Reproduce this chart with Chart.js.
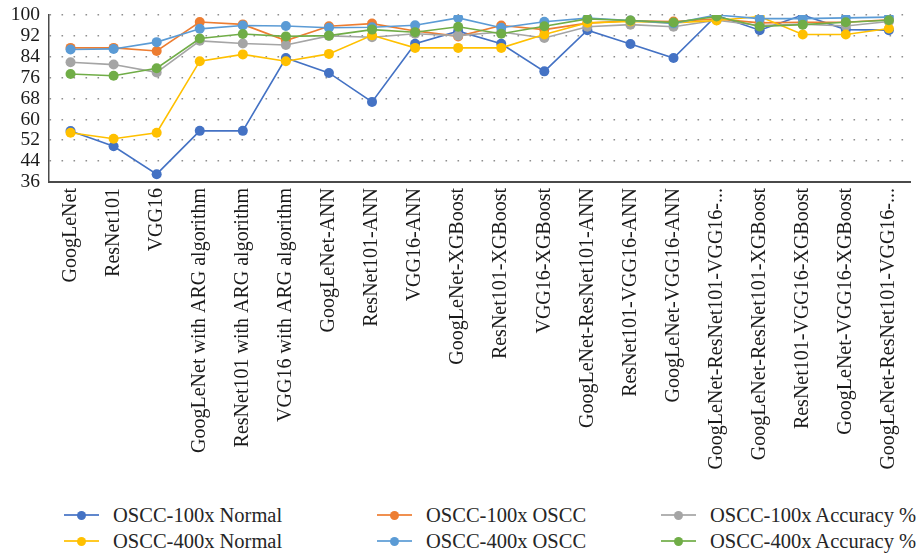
<!DOCTYPE html>
<html>
<head>
<meta charset="utf-8">
<script src="https://cdn.jsdelivr.net/npm/chart.js@4.4.1/dist/chart.umd.min.js"></script>
<style>
  html, body { margin: 0; padding: 0; background: #ffffff; }
  #wrap { position: relative; width: 919px; height: 554px; overflow: hidden; }
  #plot { position: absolute; left: 0; top: 0; width: 919px; height: 490px; }
  #legend { position: absolute; left: 0; top: 500px; width: 919px; height: 54px;
            font-family: "Liberation Serif", "DejaVu Serif", serif; font-size: 20.5px; color: #262626; }
  .item { position: absolute; height: 24px; display: flex; align-items: center; white-space: nowrap; }
  .mark { position: relative; width: 35px; height: 24px; margin-right: 14px; }
  .mark .ln { position: absolute; left: 0; right: 0; top: 11px; height: 2px; }
  .mark .dot { position: absolute; left: 13px; top: 7.5px; width: 9px; height: 9px; border-radius: 50%; }
</style>
</head>
<body>
<div id="wrap">
  <div id="plot"><canvas id="chart"></canvas></div>
  <div id="legend"></div>
</div>
<script>
// Model names along the category axis (long ones are shortened with "...")
const models = [
  "GoogLeNet",
  "ResNet101",
  "VGG16",
  "GoogLeNet with ARG algorithm",
  "ResNet101 with ARG algorithm",
  "VGG16 with ARG algorithm",
  "GoogLeNet-ANN",
  "ResNet101-ANN",
  "VGG16-ANN",
  "GoogLeNet-XGBoost",
  "ResNet101-XGBoost",
  "VGG16-XGBoost",
  "GoogLeNet-ResNet101-ANN",
  "ResNet101-VGG16-ANN",
  "GoogLeNet-VGG16-ANN",
  "GoogLeNet-ResNet101-VGG16-...",
  "GoogLeNet-ResNet101-XGBoost",
  "ResNet101-VGG16-XGBoost",
  "GoogLeNet-VGG16-XGBoost",
  "GoogLeNet-ResNet101-VGG16-..."
];

const seriesNames = [
  "OSCC-100x Normal",
  "OSCC-100x OSCC",
  "OSCC-100x Accuracy %",
  "OSCC-400x Normal",
  "OSCC-400x OSCC",
  "OSCC-400x Accuracy %"
];

// Results per model (%)
const normal100   = [55.5, 49.7, 39.0, 55.6, 55.6, 83.5, 77.8, 66.7, 89.0, 93.8, 89.0, 78.4, 94.2, 88.9, 83.5, 99.8, 94.2, 100.0, 94.4, 94.2];
const oscc100     = [87.4, 87.4, 86.2, 97.3, 96.4, 90.2, 95.7, 96.7, 93.9, 91.8, 96.0, 94.4, 96.9, 97.8, 97.5, 98.5, 97.0, 97.2, 97.2, 98.2];
const accuracy100 = [81.9, 81.0, 78.0, 90.1, 89.1, 88.5, 92.0, 91.5, 92.8, 92.1, 93.5, 91.2, 95.5, 96.3, 95.5, 98.0, 96.0, 96.5, 95.8, 97.5];
const normal400   = [54.9, 52.6, 54.9, 82.3, 84.9, 82.3, 85.1, 92.2, 87.4, 87.4, 87.4, 92.5, 97.0, 97.5, 97.0, 97.9, 99.4, 92.5, 92.5, 94.8];
const oscc400     = [86.8, 87.0, 89.6, 94.7, 96.0, 95.8, 95.1, 95.3, 96.1, 98.9, 95.1, 97.4, 98.8, 97.9, 96.8, 100.0, 98.6, 98.6, 98.9, 99.2];
const accuracy400 = [77.4, 76.7, 79.6, 91.0, 92.7, 91.8, 92.1, 94.4, 93.4, 95.5, 92.8, 95.7, 98.5, 97.9, 97.1, 99.4, 95.6, 96.3, 97.2, 98.0];

// Value axis range
const yMin = 36, yMax = 100, yStep = 8;

const seriesValues = [normal100, oscc100, accuracy100, normal400, oscc400, accuracy400];
const palette = ["#4472C4", "#ED7D31", "#A5A5A5", "#FFC000", "#5B9BD5", "#70AD47"];

const serif = "'Liberation Serif', 'DejaVu Serif', serif";

const datasets = seriesValues.map((vals, i) => ({
  label: seriesNames[i],
  data: vals,
  borderColor: palette[i],
  backgroundColor: palette[i],
  pointBackgroundColor: palette[i],
  pointBorderColor: palette[i],
  pointRadius: 5,
  pointBorderWidth: 0,
  borderWidth: 1.6,
  tension: 0,
  order: seriesValues.length - i   // later series painted on top
}));

new Chart(document.getElementById("chart"), {
  type: "line",
  data: { labels: models, datasets },
  options: {
    responsive: true,
    maintainAspectRatio: false,
    animation: false,
    events: [],
    layout: { padding: { top: 15, right: 0, bottom: 0, left: 0 } },
    plugins: { legend: { display: false }, tooltip: { enabled: false } },
    scales: {
      x: {
        offset: true,
        grid: { display: false, drawTicks: false },
        border: { display: true, color: "#4a4a4a", width: 2 },
        ticks: {
          autoSkip: false,
          maxRotation: 90,
          minRotation: 90,
          padding: 6,
          color: "#1a1a1a",
          font: { family: serif, size: 20 }
        },
        afterFit: (s) => { s.height = 308; }
      },
      y: {
        min: yMin,
        max: yMax,
        ticks: {
          stepSize: yStep,
          autoSkip: false,
          padding: 0,
          color: "#1a1a1a",
          font: { family: serif, size: 19.5 }
        },
        grid: {
          drawTicks: true,
          tickLength: 9,
          tickColor: "rgba(0,0,0,0)",
          color: "#8f8f8f",
          lineWidth: 1.6
        },
        // border.dash styles the grid lines (dotted); the axis line stays solid
        border: { display: true, color: "#4a4a4a", width: 1.5, dash: [1.6, 10.4] },
        afterFit: (s) => { s.width = 49; }
      }
    }
  }
});

// Legend: three columns, two rows (series filled row by row)
const legendCols = [64, 377, 661];
const legendRows = [3, 29];
const legend = document.getElementById("legend");
seriesNames.forEach((name, i) => {
  const item = document.createElement("div");
  item.className = "item";
  item.style.left = legendCols[i % 3] + "px";
  item.style.top = legendRows[Math.floor(i / 3)] + "px";
  item.innerHTML =
    '<div class="mark"><div class="ln" style="background:' + palette[i] + ';opacity:0.85"></div>' +
    '<div class="dot" style="background:' + palette[i] + '"></div></div>' +
    '<span>' + name + '</span>';
  legend.appendChild(item);
});
</script>
</body>
</html>
